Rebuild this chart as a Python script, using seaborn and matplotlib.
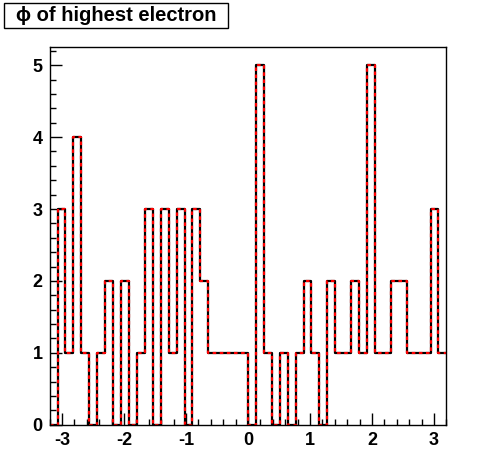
import numpy as np
import pandas as pd
import seaborn as sns
import matplotlib.pyplot as plt
from matplotlib.patches import Rectangle
from matplotlib.ticker import MultipleLocator

# bin contents of the phi histogram (50 bins from -3.2 to 3.2)
phi_lo = -3.2
phi_hi = 3.2
counts = [0, 3, 1, 4, 1, 0, 1, 2, 0, 2,
          0, 1, 3, 0, 3, 1, 3, 0, 3, 2,
          1, 1, 1, 1, 1, 0, 5, 1, 0, 1,
          0, 1, 2, 1, 0, 2, 1, 1, 2, 1,
          5, 1, 1, 2, 2, 1, 1, 1, 3, 1]
x_ticks = [-3, -2, -1, 0, 1, 2, 3]
y_ticks = [0, 1, 2, 3, 4, 5]
title = "\u03d5 of highest electron"

edges = np.linspace(phi_lo, phi_hi, len(counts) + 1)
centers = (edges[:-1] + edges[1:]) / 2
df = pd.DataFrame({"phi": centers, "n": counts})

sns.set_style("white")
plt.rcParams["font.family"] = ["Liberation Sans", "DejaVu Sans"]
plt.rcParams["axes.unicode_minus"] = False
plt.rcParams["text.color"] = "black"
plt.rcParams["xtick.color"] = "black"
plt.rcParams["ytick.color"] = "black"

fig = plt.figure(figsize=(4.96, 4.72), dpi=100)
ax = fig.add_axes([0.1, 0.1, 0.8, 0.8])

# black outline with red dashes on top
sns.histplot(data=df, x="phi", weights="n", bins=len(counts),
             binrange=(phi_lo, phi_hi), element="step",
             fill=False, color="black", linewidth=1.6, ax=ax)
sns.histplot(data=df, x="phi", weights="n", bins=len(counts),
             binrange=(phi_lo, phi_hi), element="step",
             fill=False, color="red", linewidth=1.6,
             linestyle=(0, (1.6, 1.6)), ax=ax)

ax.set_xlim(phi_lo, phi_hi)
ax.set_ylim(0, 5.25)
ax.set_xlabel("")
ax.set_ylabel("")
ax.set_xticks(x_ticks)
ax.set_yticks(y_ticks)
ax.xaxis.set_minor_locator(MultipleLocator(0.2))
ax.yaxis.set_minor_locator(MultipleLocator(0.2))
ax.tick_params(which="both", direction="in", bottom=True, left=True,
               top=False, right=False, color="black", width=1)
ax.tick_params(which="major", length=8.5, pad=5, labelsize=13,
               labelcolor="black")
ax.tick_params(which="minor", length=4.2)
for lab in ax.get_xticklabels() + ax.get_yticklabels():
    lab.set_fontweight("bold")
for sp in ax.spines.values():
    sp.set_color("black")
    sp.set_linewidth(1)

# title box
fig.patches.append(Rectangle((4 / 496, 1 - 28 / 472), 224 / 496, 25 / 472,
                             transform=fig.transFigure, facecolor="white",
                             edgecolor="black", linewidth=1))
fig.text(116 / 496, 1 - 15.5 / 472, title, ha="center", va="center",
         fontsize=14.5, fontweight="bold", color="black")

fig.savefig("out.png", dpi=100)
